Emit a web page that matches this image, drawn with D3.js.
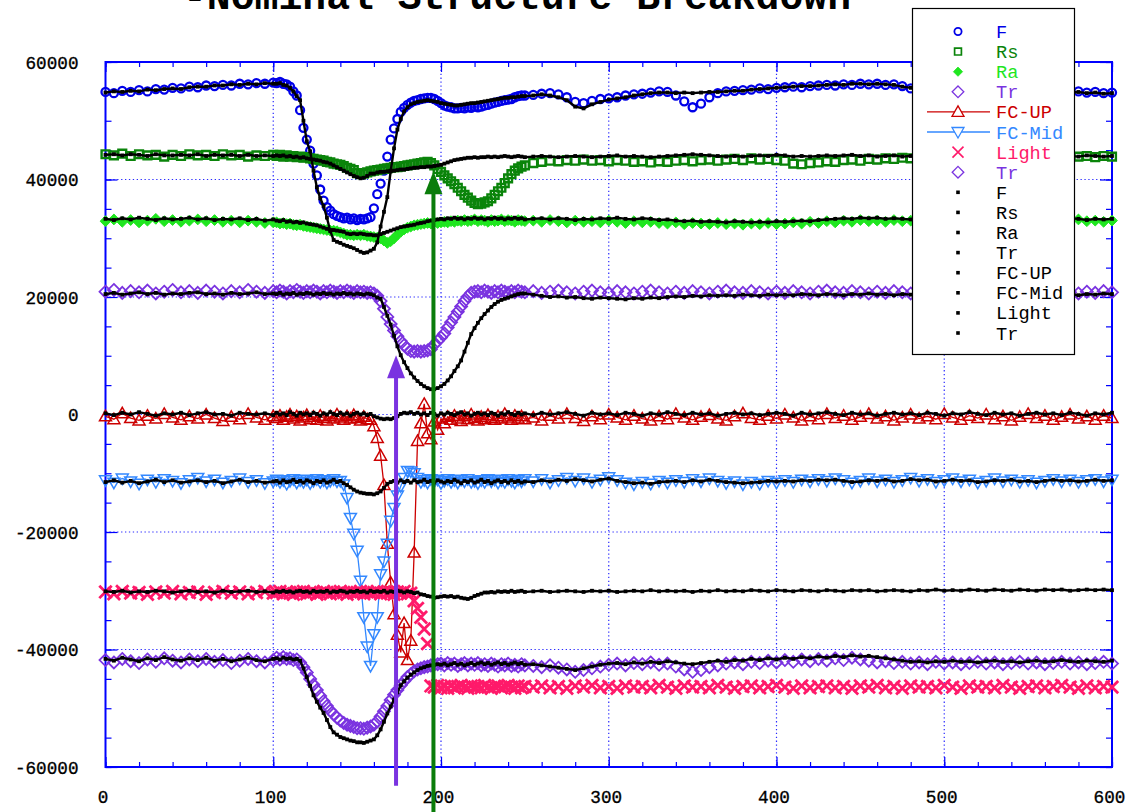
<!DOCTYPE html>
<html>
<head>
<meta charset="utf-8">
<title>Nominal Structure Breakdown</title>
<style>
body { margin: 0; background: #fff; }
svg { display: block; }
text { font-family: "Liberation Mono", "DejaVu Sans Mono", monospace; }
.tick line { stroke: #0000ff; stroke-width: 1.2px; }
.grid line { stroke: #2a2aff; stroke-width: 1.2px; stroke-dasharray: 1.3,2.6; }
</style>
</head>
<body>
<script src="https://cdn.jsdelivr.net/npm/d3@7/dist/d3.min.js"></script>
<script>

// sample positions along the x axis
var xs = [0,5,10,15,20,25,30,35,40,45,50,55,60,65,70,75,80,85,90,95,100,
  102,104,106,108,110,112,114,116,118,120,122,124,126,128,130,132,134,136,138,140,142,144,146,148,150,
  152,154,156,158,160,162,164,166,168,170,172,174,176,178,180,182,184,186,188,190,192,194,196,198,200,
  202,204,206,208,210,212,214,216,218,220,222,224,226,228,230,232,234,236,238,240,242,244,246,248,250,
  255,260,265,270,275,280,285,290,295,300,305,310,315,320,325,330,335,340,345,350,355,360,365,370,375,380,385,390,395,400,405,410,415,420,425,
  430,435,440,445,450,455,460,465,470,475,480,485,490,495,500,505,510,515,520,525,530,535,540,545,550,555,560,565,570,575,580,585,590,595,600];

var fBlue = [54900,54700,55100,54900,55200,55000,55400,55300,55600,55500,55800,55700,56000,55900,56100,56000,56300,56200,56400,56300,56500,
  56400,56600,56300,56200,55800,55000,54300,51800,48800,46800,44900,42700,40700,38300,36400,35300,34700,34100,33800,33600,33400,33500,33200,33400,33100,
  33300,33200,33400,33600,35100,37500,39300,41500,43900,46800,48700,50300,51500,52200,52700,53100,53400,53500,53700,53800,53900,53900,53700,53400,53000,
  52600,52400,52300,52100,52100,52200,52100,52300,52200,52400,52300,52400,52600,52700,52900,53100,53200,53400,53500,53600,53700,54000,54200,54300,54300,
  54400,54600,54700,54500,54000,53200,53000,53400,53700,53800,54000,54300,54500,54600,54800,55000,54900,54300,53300,52300,52900,54000,54700,55000,55100,55200,55300,55500,55400,55600,55700,55800,55700,55900,56000,
  56100,56000,56200,56100,56300,56200,56300,56100,56200,55900,55500,55700,55500,55600,55400,55500,55300,55400,55200,55300,55100,55200,55000,55100,54900,55000,54800,55000,54900,54800,55000,54800,54900,54700,54800];

var rsGreen = [44300,44100,44400,44000,44300,44100,44200,43900,44200,44000,44300,44100,44200,44000,44300,44100,44200,43900,44100,44000,44200,
  44000,44200,43900,44100,43900,44000,43800,43900,43700,43800,43600,43500,43400,43300,43200,43000,42900,42700,42600,42500,42300,42000,41800,41600,41100,
  40900,41000,41200,41400,41500,41600,41700,41800,41900,42000,42100,42100,42200,42300,42400,42500,42600,42700,42800,42900,43000,42800,42400,41800,41300,
  40700,40200,39700,39200,38600,38000,37400,36900,36400,36000,35800,35900,36100,36300,36800,37400,38000,38600,39400,40200,40900,41500,41900,42200,42400,
  42800,43000,43200,43100,43300,43200,43400,43200,43300,43100,43300,43200,43000,43100,42900,43100,43000,43200,43300,43100,43300,43400,43200,43400,43500,43300,43600,43400,43500,43300,43200,42700,42600,42800,42900,
  43100,43000,43300,43400,43200,43500,43400,43600,43500,43700,43600,43800,43700,43900,43800,43700,43900,43800,44000,43800,43900,43700,43900,43800,44000,43800,43900,43700,44000,43800,43900,44000,43800,44000,43900];

var raGreen = [32900,33200,32800,33100,32700,33000,33300,32900,33100,32800,33000,33200,32900,33100,32800,33000,32700,33000,32800,32600,32700,
  32700,32500,32600,32400,32500,32300,32200,32300,32100,32000,31900,31800,31700,31600,31500,31400,31300,31300,31200,31000,30800,30600,30600,30500,30600,
  30500,30600,30400,30300,30200,30100,30000,29600,29200,29500,30000,30600,31100,31500,31800,32000,32200,32300,32400,32500,32600,32500,32700,32600,32700,
  32800,32700,32900,32800,33000,32900,33100,32900,33000,33200,32900,33100,33000,32800,33100,32900,33000,33200,32900,33100,33000,32800,33100,33000,32900,
  33000,32800,33100,32900,32700,33000,32800,32900,32700,33000,32800,32600,32900,32700,32800,32600,32500,32700,32400,32600,32500,32400,32600,32400,32500,32300,32500,32400,32600,32400,32500,32700,32500,32800,32600,
  32900,32700,33000,32800,33100,32900,33000,32800,33100,32900,33000,33200,32900,33100,32800,33000,33200,32900,33100,32800,33000,33200,32900,33100,32800,33000,32900,33100,32800,33000,33200,32900,33000,32800,33000];

var trPurple = [20900,21200,20700,21000,20800,21100,20600,20900,21200,20800,21000,20700,21100,20900,20600,21000,20800,21200,20900,20700,21000,
  20800,21100,20900,20600,21000,20800,21200,20900,20700,21000,20800,21100,20900,20600,21000,20800,21100,20900,20700,21000,20800,21100,20900,20700,21000,
  20800,20900,20700,20800,20600,20200,19300,18000,16600,15400,14300,13300,12500,11800,11200,10800,10700,10800,10700,10800,10900,11100,11900,12500,13100,
  13800,14800,15700,16600,17500,18400,19300,20100,20700,20900,21000,20800,21100,20900,20700,21000,20800,21100,20900,20700,21000,20800,21100,20900,20800,
  21000,20700,20900,21100,20800,20600,20900,21100,20800,20700,21000,20800,20600,20900,21100,20800,20600,20900,20700,21000,20800,20600,20900,21100,20800,20700,21000,20800,20600,20900,20700,21000,20800,20600,20900,
  21100,20800,20700,21000,20800,20600,20900,20700,21000,20800,20600,20900,20700,21000,20800,20600,20900,20700,21000,20800,20600,20900,20700,21000,20800,20600,20900,20700,21000,20800,20600,20900,20700,21000,20800];

var fcUp = [-300,-800,200,-600,-1000,-200,-700,100,-500,-900,-300,-700,0,-600,-1100,-400,-800,100,-500,-900,-300,
  -600,-200,-900,-400,0,-700,-300,-1000,-500,-100,-800,-400,-900,-200,-600,-1000,-300,-700,0,-500,-900,-300,-700,-100,-600,
  -1000,-400,-800,-900,-2000,-4000,-7000,-12000,-22000,-28600,-34000,-37500,-40500,-35500,-41800,-38500,-23500,-4500,-1500,1800,-3200,-4200,-1200,-2600,-700,
  -1500,-400,-900,-200,-700,-1100,-300,-800,0,-600,-1000,-400,-800,-100,-600,-900,-300,-700,100,-500,-900,-200,-700,-300,-800,
  -500,-1000,-200,-700,100,-600,-1100,-300,-800,0,-500,-900,-200,-700,-1000,-300,-800,100,-500,-900,-400,-100,-700,-1000,-300,200,-600,-900,-200,-700,0,-500,-1000,-300,-800,
  100,-600,-200,-900,-400,100,-700,-300,-1000,-500,0,-700,-300,-800,100,-500,-900,-200,-600,0,-800,-300,-1000,-400,100,-600,-200,-900,-400,0,-700,-300,-900,-200,-600];

var fcMid = [-11200,-11600,-10900,-11400,-11800,-11100,-11500,-11000,-11300,-11700,-11200,-10800,-11400,-11100,-11600,-11300,-10900,-11500,-11200,-11700,-11400,
  -11100,-11500,-11200,-11800,-11300,-11000,-11600,-11200,-11500,-11100,-11700,-11300,-11000,-11500,-11200,-11600,-11300,-11000,-11400,-11300,-11900,-14200,-17600,-20300,-23200,
  -28300,-34500,-39500,-42800,-37400,-34500,-27200,-25000,-22000,-18100,-15900,-13800,-12200,-10800,-9600,-9700,-10000,-10800,-11500,-11200,-11600,-11000,-11400,-11100,-11700,
  -11300,-11000,-11500,-11200,-11600,-11100,-11400,-11000,-11500,-11300,-11700,-11200,-11500,-11000,-11400,-11100,-11600,-11200,-11500,-11000,-11300,-11600,-11100,-11400,-11000,
  -11400,-11000,-11600,-11200,-10800,-11300,-10900,-11500,-11100,-10700,-11200,-11600,-11900,-11500,-11800,-11300,-11600,-11200,-11500,-11000,-11400,-10900,-11300,-11700,-11400,-11900,-11500,-11800,-11300,-11600,-11200,-11500,-11100,-11400,-11000,
  -11300,-10900,-11200,-11600,-11300,-10900,-11400,-11100,-11500,-11200,-10800,-11300,-11000,-11500,-11200,-10900,-11400,-11100,-11600,-11300,-10900,-11400,-11100,-11500,-11200,-11600,-11300,-11000,-11400,-11100,-11500,-11200,-11000,-11400,-11100];

var lightPink = [-30200,-30500,-30100,-30400,-30300,-30600,-30200,-30400,-30100,-30500,-30300,-30200,-30600,-30300,-30100,-30400,-30200,-30500,-30300,-30100,-30400,
  -30300,-30100,-30500,-30200,-30400,-30600,-30200,-30300,-30100,-30500,-30300,-30200,-30600,-30400,-30100,-30300,-30500,-30200,-30400,-30100,-30300,-30600,-30200,-30400,-30300,
  -30100,-30500,-30200,-30400,-30300,-30100,-30500,-30200,-30400,-30300,-30600,-30200,-30400,-30100,-30500,-30400,-31700,-33000,-34500,-36500,-39000,-46200,-46400,-46100,-46500,
  -46300,-46600,-46200,-46500,-46300,-46100,-46400,-46600,-46200,-46400,-46300,-46500,-46100,-46400,-46600,-46300,-46200,-46500,-46300,-46100,-46400,-46600,-46200,-46500,-46300,
  -46400,-46200,-46500,-46300,-46600,-46200,-46400,-46100,-46500,-46300,-46600,-46200,-46400,-46300,-46500,-46100,-46400,-46600,-46200,-46400,-46300,-46500,-46100,-46400,-46600,-46300,-46200,-46500,-46300,-46100,-46400,-46600,-46200,-46500,-46300,
  -46200,-46500,-46300,-46600,-46200,-46400,-46100,-46500,-46300,-46600,-46200,-46400,-46300,-46500,-46100,-46400,-46600,-46200,-46400,-46300,-46500,-46100,-46400,-46600,-46300,-46200,-46500,-46300,-46100,-46400,-46600,-46200,-46500,-46300,-46400];

var tr2Purple = [-41800,-42200,-41600,-42000,-42300,-41700,-42100,-41500,-41900,-42200,-41700,-42000,-41600,-42100,-41800,-42300,-41900,-41600,-42000,-42200,-41800,
  -41400,-41700,-41300,-41600,-41500,-41800,-41700,-42200,-43000,-43900,-45000,-46000,-46900,-47900,-48800,-49600,-50400,-51000,-51600,-52100,-52500,-52800,-53000,-53200,-53400,
  -53400,-53500,-53300,-53100,-52800,-52200,-51400,-50500,-49600,-48600,-47700,-46900,-46100,-45400,-44700,-44200,-43700,-43400,-43200,-43000,-42900,-42700,-42600,-42500,-42400,
  -42700,-42300,-42600,-42400,-42800,-42500,-42300,-42700,-42400,-42600,-42300,-42700,-42500,-42800,-42400,-42600,-42900,-42500,-42700,-42400,-42800,-42600,-42900,-42500,-42700,
  -42800,-43000,-42700,-43100,-43400,-43800,-43500,-43200,-42900,-42600,-42400,-42700,-42300,-42500,-42200,-42600,-42400,-42900,-43400,-43800,-43500,-43000,-42700,-42400,-42200,-42500,-42100,-42300,-41900,-42200,-41800,-42100,-41700,-42000,-41600,
  -41900,-41500,-41800,-41400,-41700,-41900,-42200,-42000,-42300,-42100,-42400,-42200,-42500,-42100,-42400,-42200,-42500,-42300,-42100,-42400,-42200,-42500,-42300,-42100,-42400,-42200,-42500,-42300,-42100,-42400,-42200,-42500,-42300,-42100,-42400];

// black companions
var fBlack = [54800,55000,54900,55100,55000,55300,55200,55400,55500,55400,55700,55800,55800,56000,56000,56200,56100,56300,56200,56400,56300,
  56300,56400,56100,56000,55600,55000,54200,53500,50000,46500,44800,41500,38700,36800,35500,33500,31200,29700,29400,29200,28900,28700,28500,28300,28000,
  27700,27500,27600,27900,28200,29300,32000,34500,37000,41400,45300,48500,50300,51600,52300,52800,53000,53200,53300,53400,53500,53400,53300,53200,53000,
  52900,52800,52700,52600,52600,52700,52800,52900,53000,53000,53100,53200,53300,53400,53500,53600,53700,53800,53900,53900,54000,54000,54100,54200,54200,
  54300,54500,54300,54000,53500,52400,52100,52800,53200,53600,53800,54000,54300,54500,54700,54800,54800,54700,54800,54700,54800,54900,54900,55000,55100,55100,55300,55400,55500,55600,55700,55800,55900,55900,56000,
  56100,56200,56100,56300,56300,56200,56300,56200,56100,55800,55600,55500,55600,55400,55500,55300,55400,55200,55300,55100,55200,55000,55100,54900,55000,54800,54900,54700,54900,54800,54900,54700,54800,54600,54700];

var rsBlack = [44200,44300,44100,44300,44200,44000,44300,44100,44100,44200,44100,44300,44000,44200,44100,44200,44000,44200,44000,44100,44000,
  44100,44000,44100,43900,44000,43800,43900,43700,43800,43600,43500,43400,43300,43200,43000,42900,42700,42400,42100,41800,41500,41200,40900,40600,40400,
  40200,40300,40600,41000,41000,41200,41300,41300,41400,41500,41500,41600,41700,41700,41800,41900,42000,42000,42100,42100,42200,42200,42300,42400,42500,
  42700,42900,43100,43300,43400,43500,43600,43700,43700,43800,43700,43800,43800,43900,43800,43900,43800,43900,44000,43900,43800,43900,44000,43900,43800,
  43900,44000,43900,43800,43900,44000,43900,43800,43900,44000,44100,43900,44000,43900,43800,43900,44000,44100,44200,44300,44200,44100,44000,43900,44000,43900,44000,44100,44000,44200,44100,43900,44000,43900,44000,
  44100,44000,44100,44200,44000,44100,43900,44000,44100,43900,44000,44200,44100,43900,44000,44100,44000,43900,44100,44000,44200,44000,43900,44100,44000,43900,44100,44000,44200,44000,43900,44100,44000,43900,44000];

var raBlack = [33300,33100,33400,33200,33500,33300,33100,33400,33200,33300,33500,33200,33400,33100,33300,33200,33400,33100,33300,33000,33200,
  33000,32900,33100,32800,32900,32700,32800,32600,32700,32500,32400,32300,32200,32000,31800,31600,31400,31400,31300,31200,31100,30800,30700,30800,30700,
  30800,30700,30600,30600,30500,30500,30700,30900,31100,31300,31500,31700,31900,32000,32100,32200,32300,32500,32600,32700,32900,33000,33100,33200,33300,
  33200,33400,33300,33500,33300,33400,33200,33400,33300,33500,33300,33400,33200,33400,33300,33500,33300,33400,33200,33400,33300,33500,33300,33400,33200,
  33300,33400,33200,33400,33300,33100,33300,33200,33400,33300,33500,33300,33200,33400,33300,33100,33200,33000,32900,33000,32800,32900,32800,32700,32900,32800,32700,32800,32700,32900,32800,32900,33000,32900,33100,
  33200,33300,33400,33300,33500,33400,33500,33300,33400,33300,33200,33400,33300,33100,33300,33200,33400,33300,33100,33300,33200,33400,33300,33100,33300,33200,33400,33300,33200,33400,33300,33100,33300,33200,33300];

var trBlack = [20500,20700,20400,20600,20800,20500,20700,20400,20600,20500,20700,20800,20500,20600,20400,20700,20500,20600,20800,20500,20600,
  20500,20700,20400,20600,20500,20700,20400,20600,20500,20700,20600,20400,20600,20500,20700,20500,20600,20400,20600,20500,20700,20500,20600,20400,20600,
  20500,20400,20600,20500,20300,19900,19700,18300,16800,15300,13400,11600,10100,8900,7900,7000,6300,5700,5200,4800,4500,4300,4300,4500,4800,
  5200,5800,6500,7400,8200,9200,10700,12200,13700,14700,15600,16400,17100,17700,18300,18800,19200,19500,19700,19900,20100,20300,20500,20600,20600,
  20400,20200,20000,20100,19900,20000,19800,19700,19900,19800,19700,19600,19800,19700,19900,19800,20000,20100,20000,20200,20100,20300,20200,20300,20200,20400,20300,20200,20400,20300,20400,20300,20500,20400,20300,
  20500,20400,20300,20500,20400,20600,20400,20500,20300,20500,20400,20600,20500,20300,20500,20400,20600,20400,20500,20300,20500,20600,20400,20500,20300,20500,20400,20600,20400,20500,20300,20500,20400,20600,20500];

var fcUpBlack = [200,-100,300,0,400,100,-200,200,0,300,-100,200,400,0,100,-200,300,100,0,200,-100,
  300,0,200,-100,400,100,-200,300,0,200,-100,300,100,-200,200,0,400,100,-100,300,0,200,-200,100,300,
  0,200,-100,100,-300,-500,-700,-800,-700,-800,-600,-300,100,300,200,400,100,300,0,200,-100,300,100,-200,200,
  0,300,100,-100,200,400,0,200,-200,100,300,0,200,-100,300,100,-200,200,0,400,100,-100,300,0,200,
  -100,300,0,200,400,100,-200,300,0,200,-100,300,100,-200,200,0,400,100,-100,300,0,200,-200,100,300,0,200,-100,100,300,100,-200,300,0,200,
  400,100,-100,300,0,200,-200,100,300,0,200,-100,300,100,-200,200,0,400,100,-100,300,0,200,-200,100,300,0,200,-100,300,100,-200,200,0,300];

var fcMidBlack = [-11500,-11200,-11600,-11300,-11700,-11400,-11100,-11500,-11200,-11600,-11400,-11200,-11500,-11300,-11700,-11400,-11100,-11500,-11300,-11600,-11400,
  -11300,-11600,-11200,-11500,-11400,-11100,-11500,-11300,-11600,-11200,-11400,-11700,-11300,-11500,-11200,-11600,-11400,-11100,-11500,-11300,-11700,-12000,-12400,-12800,-13100,
  -13300,-13400,-13500,-13500,-13600,-13400,-13100,-12500,-11800,-11500,-11300,-11600,-11200,-11500,-11300,-11600,-11200,-11500,-11400,-11100,-11500,-11300,-11600,-11200,-11400,
  -11600,-11300,-11500,-11100,-11400,-11700,-11300,-11500,-11200,-11600,-11400,-11100,-11500,-11300,-11700,-11400,-11200,-11500,-11300,-11600,-11200,-11500,-11300,-11600,-11400,
  -11500,-11200,-11400,-11100,-11300,-11000,-11200,-11400,-11100,-10900,-11300,-11500,-11700,-11600,-11800,-11500,-11400,-11300,-11500,-11200,-11400,-11100,-11300,-11500,-11600,-11700,-11600,-11500,-11300,-11400,-11300,-11400,-11200,-11300,-11100,
  -11200,-11100,-11300,-11500,-11400,-11200,-11300,-11100,-11400,-11300,-11000,-11200,-11100,-11400,-11300,-11100,-11300,-11200,-11500,-11400,-11200,-11300,-11100,-11400,-11300,-11500,-11300,-11100,-11300,-11200,-11400,-11300,-11100,-11300,-11200];

var lightBlack = [-30100,-30200,-30000,-30300,-30100,-30200,-30000,-30100,-30300,-30100,-30000,-30200,-30100,-30300,-30000,-30200,-30100,-30000,-30200,-30100,-30300,
  -30100,-30200,-30000,-30200,-30100,-30300,-30100,-30000,-30200,-30100,-30300,-30000,-30200,-30100,-30200,-30000,-30300,-30100,-30200,-30000,-30100,-30300,-30100,-30200,-30000,
  -30200,-30100,-30300,-30000,-30200,-30100,-30200,-30000,-30300,-30100,-30200,-30000,-30100,-30300,-30100,-30200,-30400,-30300,-30600,-30700,-30900,-31000,-31200,-31100,-31000,
  -30900,-31000,-30900,-31100,-31000,-31200,-31300,-31400,-31200,-30900,-30700,-30500,-30300,-30300,-30200,-30300,-30100,-30200,-30100,-30200,-30000,-30200,-30100,-30000,-30200,
  -30100,-30000,-30200,-30100,-30000,-30100,-30200,-30000,-30100,-30000,-30200,-30100,-30000,-30100,-29900,-30100,-30000,-30100,-30000,-30200,-30000,-30100,-29900,-30100,-30000,-30100,-29900,-30000,-30100,-29900,-30000,-30100,-29900,-30000,-30100,
  -29900,-30000,-30100,-29900,-30000,-29900,-30100,-30000,-29900,-30000,-30100,-29900,-30000,-29800,-30000,-29900,-30000,-29800,-29900,-30000,-29800,-29900,-30000,-29800,-29900,-30000,-29800,-29900,-29800,-30000,-29900,-29800,-29900,-29800,-29900];

var tr2Black = [-41600,-41900,-41400,-41700,-42000,-41500,-41800,-41300,-41700,-41900,-41500,-41800,-41400,-41900,-41600,-42000,-41700,-41400,-41800,-42000,-41600,
  -41500,-41700,-41400,-41600,-41500,-41700,-41600,-41900,-43200,-44700,-46200,-47800,-48900,-49900,-50800,-52000,-53200,-54100,-54500,-54900,-55100,-55300,-55500,-55600,-55800,
  -55800,-55900,-55700,-55500,-55300,-54600,-53600,-52300,-50900,-49700,-48500,-47300,-46100,-45400,-44800,-44300,-43900,-43500,-43200,-43000,-42800,-42700,-42600,-42500,-42600,
  -42400,-42700,-42500,-42300,-42600,-42400,-42700,-42500,-42300,-42600,-42400,-42200,-42500,-42300,-42600,-42400,-42200,-42500,-42300,-42600,-42400,-42200,-42500,-42300,-42600,
  -42500,-42700,-42900,-43100,-43300,-43500,-43200,-42900,-42600,-42400,-42300,-42500,-42200,-42400,-42100,-42300,-42000,-42200,-42400,-42500,-42300,-42100,-41900,-42100,-41800,-41900,-41600,-41800,-41500,-41700,-41400,-41600,-41300,-41500,-41200,
  -41400,-41100,-41300,-41000,-41200,-41100,-41300,-41500,-41700,-41900,-42100,-42000,-42200,-42000,-42100,-41900,-42100,-42000,-42200,-42000,-41900,-42100,-42000,-42200,-42000,-41900,-42100,-42000,-41800,-42000,-42100,-41900,-42000,-42100,-41900];

// axis ticks
var xMajor = [0, 100, 200, 300, 400, 500, 600];
var yMajor = [-60000, -40000, -20000, 0, 20000, 40000, 60000];
var xGridVals = [100, 200, 300, 400, 500];
var yGridVals = [-40000, -20000, 0, 20000, 40000];

// the two arrows: x position, tip value, tail value
var arrowX = [173.2, 195.5];
var arrowTip = [10100, 41400];
var arrowTail = [-63200, -70000];
var arrowColors = ["#7a33e0", "#0a7d0a"];

var title = "-Nominal Structure Breakdown";

var width = 1130, height = 812;

var x = d3.scaleLinear().domain([0, 600]).range([105.5, 1112]);
var y = d3.scaleLinear().domain([-60000, 60000]).range([767, 62]);

var svg = d3.select("body").append("svg")
    .attr("width", width)
    .attr("height", height);

var shapes = {
  circle: function(r) { return "M" + r + ",0A" + r + "," + r + " 0 1,1 " + (-r) + ",0A" + r + "," + r + " 0 1,1 " + r + ",0Z"; },
  square: function(s) { return "M" + (-s) + "," + (-s) + "H" + s + "V" + s + "H" + (-s) + "Z"; },
  diamond: function(s) { return "M0," + (-s) + "L" + s + ",0L0," + s + "L" + (-s) + ",0Z"; },
  triUp: function(s) { return "M0," + (-s) + "L" + s + "," + (s * 0.75) + "L" + (-s) + "," + (s * 0.75) + "Z"; },
  triDown: function(s) { return "M0," + s + "L" + s + "," + (-s * 0.75) + "L" + (-s) + "," + (-s * 0.75) + "Z"; },
  cross: function(s) { return "M" + (-s) + "," + (-s) + "L" + s + "," + s + "M" + s + "," + (-s) + "L" + (-s) + "," + s; }
};

// size/sw: marker in the plot; lsize/lsw: marker in the legend
var series = [
  {name: "F", vals: fBlue, color: "#0000e8", shape: "circle", size: 4, sw: 2.3, lsize: 3.6, lsw: 1.8, fill: "none"},
  {name: "Rs", vals: rsGreen, color: "#0a840a", shape: "square", size: 3.9, sw: 2.4, lsize: 3.4, lsw: 1.7, fill: "none"},
  {name: "Ra", vals: raGreen, color: "#1fe61f", shape: "diamond", size: 5.4, sw: 1, lsize: 4.6, lsw: 0.8, fill: "#1fe61f"},
  {name: "Tr", vals: trPurple, color: "#7a33e0", shape: "diamond", size: 6, sw: 1.8, lsize: 5.8, lsw: 1.3, fill: "none"},
  {name: "FC-UP", vals: fcUp, color: "#cc0000", shape: "triUp", size: 6, sw: 1.5, lsize: 6, lsw: 1.3, fill: "none", line: true},
  {name: "FC-Mid", vals: fcMid, color: "#3388ff", shape: "triDown", size: 6, sw: 1.5, lsize: 6, lsw: 1.3, fill: "none", line: true},
  {name: "Light", vals: lightPink, color: "#ff1a6a", shape: "cross", size: 6.2, sw: 2.8, lsize: 5.5, lsw: 1.6, fill: "none"},
  {name: "Tr", vals: tr2Purple, color: "#7a33e0", shape: "diamond", size: 6, sw: 1.8, lsize: 5.8, lsw: 1.3, fill: "none"},
  {name: "F", vals: fBlack, black: true},
  {name: "Rs", vals: rsBlack, black: true},
  {name: "Ra", vals: raBlack, black: true},
  {name: "Tr", vals: trBlack, black: true},
  {name: "FC-UP", vals: fcUpBlack, black: true},
  {name: "FC-Mid", vals: fcMidBlack, black: true},
  {name: "Light", vals: lightBlack, black: true},
  {name: "Tr", vals: tr2Black, black: true}
];

var bad = [];
series.forEach(function(s) {
  if (s.vals.length !== xs.length) bad.push(s.name + ":" + s.vals.length);
  s.points = xs.map(function(xv, i) { return {x: xv, y: s.vals[i]}; })
    .filter(function(d) { return d.y != null; });
});

// title (mostly cut off by the top edge)
svg.append("text")
    .attr("x", 183)
    .attr("y", 9)
    .attr("textLength", 668)
    .attr("lengthAdjust", "spacingAndGlyphs")
    .style("font-size", "40px")
    .style("font-weight", "bold")
    .text(title);

// dotted grid
var grid = svg.append("g").attr("class", "grid");
grid.selectAll(".gx").data(xGridVals).enter().append("line")
    .attr("x1", function(d) { return x(d); }).attr("x2", function(d) { return x(d); })
    .attr("y1", y(60000)).attr("y2", y(-60000));
grid.selectAll(".gy").data(yGridVals).enter().append("line")
    .attr("y1", function(d) { return y(d); }).attr("y2", function(d) { return y(d); })
    .attr("x1", x(0)).attr("x2", x(600));

// ticks on all four sides, pointing inward
function ticksOnly(g) { g.select(".domain").remove(); }

svg.append("g").attr("transform", "translate(0," + y(-60000) + ")")
    .call(d3.axisBottom(x).ticks(30).tickSize(-5).tickSizeOuter(0).tickFormat(""))
    .call(ticksOnly);
svg.append("g").attr("transform", "translate(0," + y(60000) + ")")
    .call(d3.axisTop(x).ticks(30).tickSize(-5).tickSizeOuter(0).tickFormat(""))
    .call(ticksOnly);
svg.append("g").attr("transform", "translate(0," + y(60000) + ")")
    .call(d3.axisTop(x).tickValues(xMajor).tickSize(-10).tickSizeOuter(0).tickFormat(""))
    .call(ticksOnly);
svg.append("g").attr("transform", "translate(" + x(0) + ",0)")
    .call(d3.axisLeft(y).ticks(24).tickSize(-6).tickSizeOuter(0).tickFormat(""))
    .call(ticksOnly);
svg.append("g").attr("transform", "translate(" + x(600) + ",0)")
    .call(d3.axisRight(y).ticks(24).tickSize(-6).tickSizeOuter(0).tickFormat(""))
    .call(ticksOnly);
svg.append("g").attr("transform", "translate(" + x(600) + ",0)")
    .call(d3.axisRight(y).tickValues(yMajor).tickSize(-12).tickSizeOuter(0).tickFormat(""))
    .call(ticksOnly);

var xAxis = svg.append("g").attr("transform", "translate(0," + y(-60000) + ")")
    .call(d3.axisBottom(x).tickValues(xMajor).tickSize(-10).tickSizeOuter(0).tickPadding(23)
      .tickFormat(function(d) { return String(d); }))
    .call(ticksOnly);
var yAxis = svg.append("g").attr("transform", "translate(" + x(0) + ",0)")
    .call(d3.axisLeft(y).tickValues(yMajor).tickSize(-12).tickSizeOuter(0).tickPadding(27)
      .tickFormat(function(d) { return String(d); }))
    .call(ticksOnly);

[xAxis, yAxis].forEach(function(g) {
  g.selectAll("text")
      .attr("fill", "#000")
      .attr("stroke", "#000")
      .attr("stroke-width", 0.35)
      .style("font-family", '"Liberation Mono", monospace')
      .style("font-size", "19px")
      .attr("lengthAdjust", "spacingAndGlyphs")
      .attr("textLength", function(d) { return String(d).length * 10.6; });
});
xAxis.selectAll("text").attr("dx", -3);

// plot frame
svg.append("rect")
    .attr("x", x(0)).attr("y", y(60000))
    .attr("width", x(600) - x(0)).attr("height", y(-60000) - y(60000))
    .attr("fill", "none")
    .attr("stroke", "#0000ff")
    .attr("stroke-width", 2);

// data
var line = d3.line().x(function(d) { return x(d.x); }).y(function(d) { return y(d.y); });
var plot = svg.append("g");

series.filter(function(s) { return !s.black; }).forEach(function(s) {
  var g = plot.append("g");
  if (s.line) {
    g.append("path").datum(s.points)
        .attr("d", line)
        .attr("fill", "none")
        .attr("stroke", s.color)
        .attr("stroke-width", 1.3);
  }
  g.selectAll("path.m").data(s.points).enter().append("path")
      .attr("class", "m")
      .attr("transform", function(d) { return "translate(" + x(d.x) + "," + y(d.y) + ")"; })
      .attr("d", shapes[s.shape](s.size))
      .attr("fill", s.fill)
      .attr("stroke", s.color)
      .attr("stroke-width", s.sw);
});

series.filter(function(s) { return s.black; }).forEach(function(s) {
  var g = plot.append("g");
  g.append("path").datum(s.points)
      .attr("d", line)
      .attr("fill", "none")
      .attr("stroke", "#000")
      .attr("stroke-width", 2.4);
  g.selectAll("rect").data(s.points).enter().append("rect")
      .attr("x", function(d) { return x(d.x) - 1.9; })
      .attr("y", function(d) { return y(d.y) - 1.9; })
      .attr("width", 3.8).attr("height", 3.8)
      .attr("fill", "#000");
});

// arrows
arrowX.forEach(function(ax, i) {
  var px = x(ax), tip = y(arrowTip[i]), tail = y(arrowTail[i]);
  svg.append("line")
      .attr("x1", px).attr("x2", px)
      .attr("y1", tail).attr("y2", tip + 20)
      .attr("stroke", arrowColors[i])
      .attr("stroke-width", 4);
  svg.append("path")
      .attr("d", "M" + px + "," + tip + "L" + (px + 9) + "," + (tip + 23) + "L" + (px - 9) + "," + (tip + 23) + "Z")
      .attr("fill", arrowColors[i]);
});

// legend
var legend = svg.append("g");
legend.append("rect")
    .attr("x", 912.5).attr("y", 8.5)
    .attr("width", 162).attr("height", 346)
    .attr("fill", "#fff")
    .attr("stroke", "#000")
    .attr("stroke-width", 1.2);

series.forEach(function(s, i) {
  var ly = 31.5 + i * 20.1;
  var col = s.black ? "#000" : s.color;
  if (s.line) {
    legend.append("line")
        .attr("x1", 927).attr("x2", 990).attr("y1", ly).attr("y2", ly)
        .attr("stroke", col).attr("stroke-width", 1.3);
  }
  if (s.black) {
    legend.append("rect")
        .attr("x", 956.2).attr("y", ly - 1.8)
        .attr("width", 3.6).attr("height", 3.6)
        .attr("fill", "#000");
  } else {
    legend.append("path")
        .attr("transform", "translate(958," + ly + ")")
        .attr("d", shapes[s.shape](s.lsize))
        .attr("fill", s.line ? "#fff" : s.fill)
        .attr("stroke", col)
        .attr("stroke-width", s.lsw);
  }
  legend.append("text")
      .attr("x", 996)
      .attr("y", ly + 6.5)
      .attr("fill", col)
      .attr("textLength", s.name.length * 11.2)
      .attr("lengthAdjust", "spacingAndGlyphs")
      .style("font-size", "18px")
      .text(s.name);
});

if (bad.length) throw new Error("length mismatch " + bad.join(" ") + " xs=" + xs.length);

</script>
</body>
</html>
